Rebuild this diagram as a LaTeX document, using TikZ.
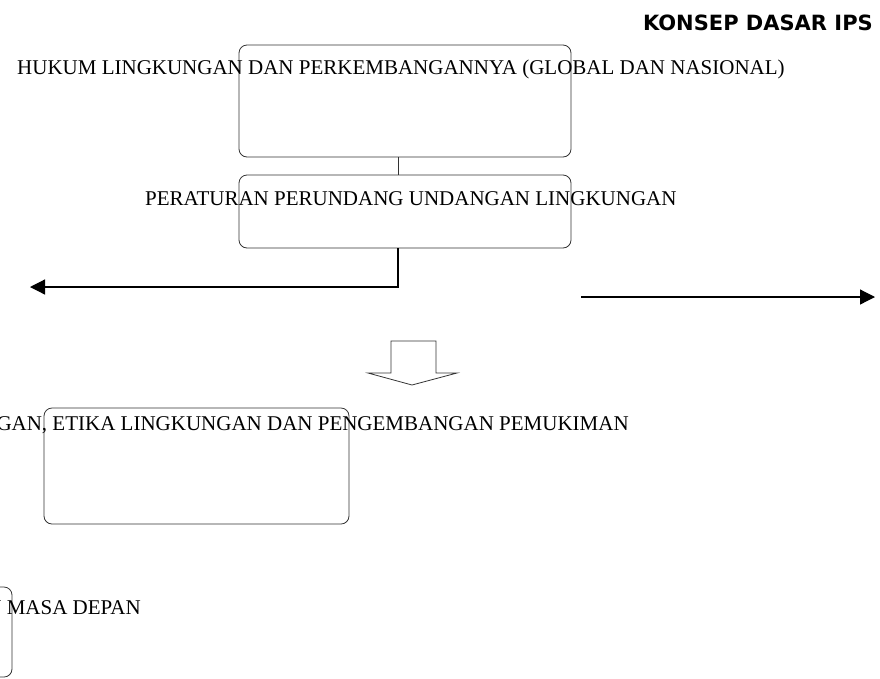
\documentclass[tikz,border=0pt]{standalone}
\usepackage{fontspec}
\setmainfont{Liberation Serif}
\newfontfamily\headfont{DejaVu Sans}
\usetikzlibrary{arrows.meta}

\begin{document}
\begin{tikzpicture}[x=1pt, y=-1pt,
    kotak/.style={draw=black!80, line width=0.8pt, rounded corners=8pt, inner sep=0pt},
    teks/.style={inner sep=0pt, font=\fontsize{21}{25}\selectfont},
    panah/.style={line width=1.2pt, -{Triangle[length=15pt, width=15pt]}}]
        \useasboundingbox (0,0) rectangle (880,678);
        \node[inner sep=0pt, anchor=base east, font=\headfont\bfseries\fontsize{21}{25}\selectfont] (judul) at (873,30) {KONSEP DASAR IPS};
        \node[kotak, minimum width=332pt, minimum height=112pt] (kotak1) at (405,101) {};
        \node[kotak, minimum width=332pt, minimum height=73pt] (kotak2) at (405,211.5) {};
        \node[kotak, minimum width=305pt, minimum height=116pt] (kotak3) at (196.5,466) {};
        \node[kotak, minimum width=312pt, minimum height=90pt] (kotak4) at (-144,632) {};
        \node[teks, anchor=base west] (hukum) at (17,74) {HUKUM LINGKUNGAN DAN PERKEMBANGANNYA (GLOBAL DAN NASIONAL)};
        \node[teks, anchor=base west] (peraturan) at (145,205) {PERATURAN PERUNDANG UNDANGAN LINGKUNGAN};
        \node[teks, anchor=base east] (etika) at (629,430) {GAN, ETIKA LINGKUNGAN DAN PENGEMBANGAN PEMUKIMAN};
        \node[teks, anchor=base east] (masa) at (141,614) {N MASA DEPAN};
        \coordinate (c1) at (398,0);
        \coordinate (kiri) at (30,287);
        \coordinate (kanan1) at (581,297);
        \coordinate (kanan2) at (875,297);
        \draw[draw=black!80, line width=0.8pt] (kotak1.south -| c1) -- (kotak2.north -| c1);
        \draw[panah] (kotak2.south -| c1) |- (kiri);
        \draw[panah] (kanan1) -- (kanan2);
        \draw[draw=black!80, line width=0.8pt] (391,341) -- (436,341) -- (436,373) -- (457,373) -- (412,385) -- (368,373) -- (391,373) -- cycle;
    \end{tikzpicture}
\end{document}
